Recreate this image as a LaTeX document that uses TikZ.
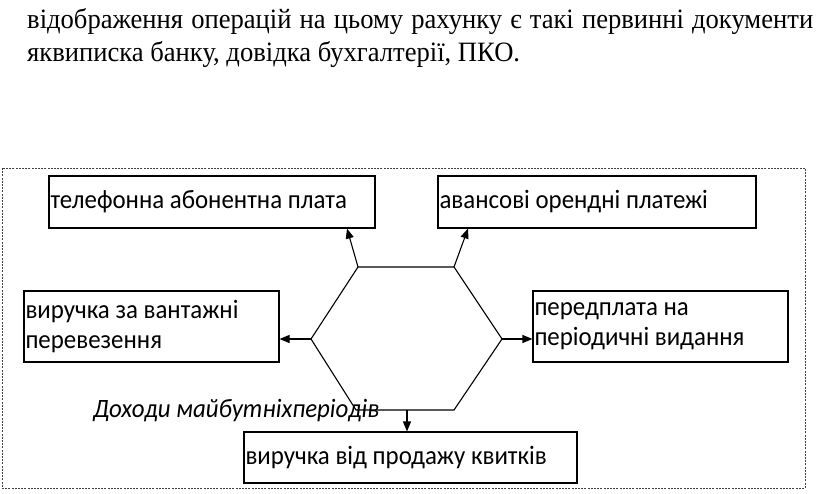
\documentclass[tikz,border=0pt]{standalone}
\usepackage{fontspec}
\setmainfont[FakeStretch=0.95]{Liberation Serif}
\newfontfamily\boxfont[FakeStretch=0.94]{Carlito}
\usetikzlibrary{arrows.meta}
\tikzset{
  itembox/.style={draw, line width=1.1pt, inner xsep=1.5pt, inner ysep=0pt, align=flush left,
    font=\boxfont\fontsize{26.5}{30}\selectfont},
  conn/.style={line width=1.1pt, -{Triangle[length=10pt,width=8pt]}},
  hexline/.style={line width=1.1pt},
  frame/.style={line width=0.9pt, draw=black!75, dash pattern=on 2pt off 1.2pt}
}
\begin{document}
\begin{tikzpicture}[x=1pt,y=-1pt]
\useasboundingbox (0,0) rectangle (816,494);
% top paragraph
\node[anchor=base west, inner sep=0pt, font=\fontsize{28}{33}\selectfont] (l1) at (27,29)
  {\makebox[786pt][s]{відображення операцій на цьому рахунку є такі первинні документи}};
\node[anchor=base west, inner sep=0pt, font=\fontsize{28}{33}\selectfont] (l2) at (27,62)
  {яквиписка банку, довідка бухгалтерії, ПКО.};
% frame
\draw[frame] (2,168) rectangle (805,488);
% boxes
\node[itembox, text width=323pt, minimum height=52pt] (b1) at (212,202) {телефонна абонентна плата};
\node[itembox, text width=315pt, minimum height=52pt] (b2) at (597,202) {авансові орендні платежі};
\node[itembox, text width=252pt, minimum height=71pt] (b3) at (151.5,326.5) {виручка за вантажні\\перевезення};
\node[itembox, text width=252pt, minimum height=71pt] (b4) at (660.5,326.5) {передплата на\\періодичні видання};
\node[itembox, text width=330pt, minimum height=51pt] (b5) at (410.5,457.5) {виручка від продажу квитків};
% hexagon
\coordinate (h1) at (358,267);
\coordinate (h2) at (454,267);
\coordinate (h3) at (502,339);
\coordinate (h4) at (454,410);
\coordinate (h5) at (356,410);
\coordinate (h6) at (311,339);
\coordinate (hb) at (407,410);
\draw[hexline] (h1) -- (h2) -- (h3) -- (h4) -- (h5) -- (h6) -- cycle;
% label
\node[anchor=base west, inner sep=0pt, font=\boxfont\itshape\fontsize{26.5}{30}\selectfont] (lab) at (93,417) {Доходи майбутніхперіодів};
% connectors
\draw[conn] (h1) -- (b1.south -| 347,0);
\draw[conn] (h2) -- (b2.south -| 468,0);
\draw[conn] (h6) -- (b3.east |- h6);
\draw[conn] (h3) -- (b4.west |- h3);
\draw[conn] (hb) -- (b5.north -| hb);
\end{tikzpicture}
\end{document}
